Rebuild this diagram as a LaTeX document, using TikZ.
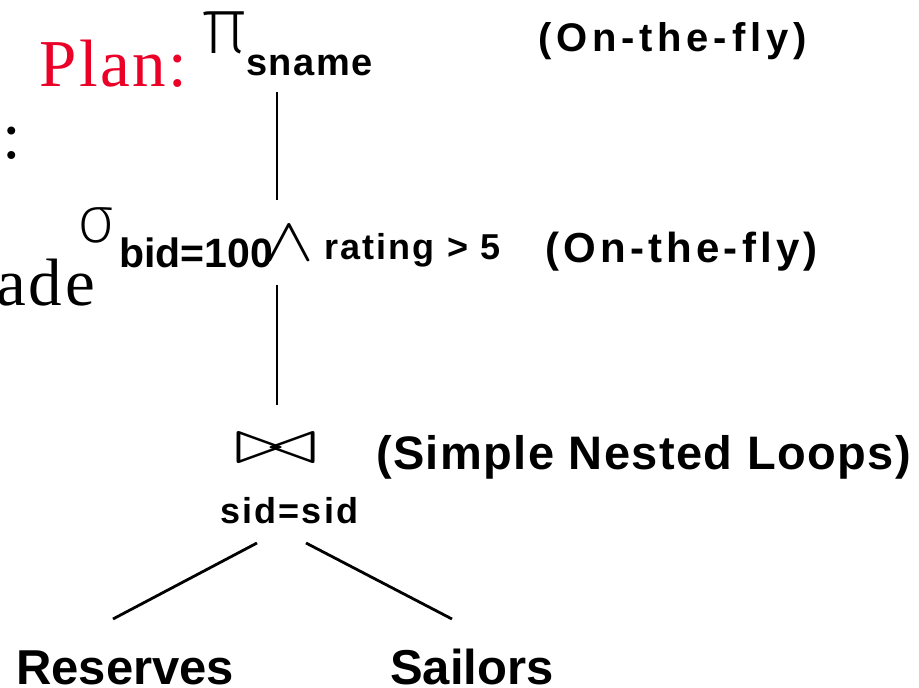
\RequirePackage{fix-cm}
\documentclass[tikz,border=0pt]{standalone}
\usepackage{fontspec}
\usepackage{graphicx}
\usepackage{xcolor}
\usepackage{tikz}

\newfontfamily\helv{Liberation Sans}
\newfontfamily\slidefont{Liberation Serif}
\newfontfamily\thinsym{Fira Sans ExtraLight}
\definecolor{planred}{RGB}{235,0,40}
\newcommand\opfont[2]{\helv\bfseries\fontsize{#1}{#1}\selectfont\addfontfeature{LetterSpace=#2}}
\newcommand\bigfont[1]{\fontsize{#1}{#1}\selectfont}

\tikzset{
	lbl/.style 2 args={inner sep=0pt, anchor=base west, font=\opfont{#1}{#2}},
	sym/.style={inner sep=0pt, anchor=base west, font=\bigfont{#1}},
	slide/.style={inner sep=0pt, anchor=base west, font=\slidefont\bigfont{67}\addfontfeature{LetterSpace=4}},
	edge/.style={line width=2.8pt},
}

\begin{document}
\begin{tikzpicture}[x=1pt, y=-1pt]
				\useasboundingbox (0,0) rectangle (919,688);
				
				%Slide text on the left
				\node[slide, text=planred] (plan) at (39,86) {Plan:};
				\node[slide] (colon) at (2,158) {:};
				\node[slide, anchor=base east] (ade) at (95,305) {ade};
				
				%Projection
				\node[sym=80, font=\thinsym\bigfont{80}] (pi) at (201,53) {π};
				\node[lbl={38}{4}] (sname) at (246,75) {sname};
				\node[lbl={40}{12}] (fly1) at (538,51) {(On-the-fly)};
				
				%Selection
				\node[sym=66, font=\thinsym\bigfont{66}] (sigma) at (77,242) {σ};
				\node[lbl={41}{0}] (bid) at (119,267) {bid=100};
				\node[sym=62] (and) at (264,260) {\scalebox{1.2}[1]{\(\wedge\)}};
				\node[lbl={36}{6}] (rating) at (324,259) {rating > 5};
				\node[lbl={42}{10}] (fly2) at (545,262) {(On-the-fly)};
				
				%Join
				\node[sym=64] (join) at (234,463) {\scalebox{1.6}[1]{\(\bowtie\)}};
				\node[lbl={47}{3}] (snl) at (376,469) {(Simple Nested Loops)};
				\node[lbl={36}{6}] (cond) at (220,523) {sid=sid};
				
				%Leaves
				\node[lbl={49}{0}] (res) at (16,684) {Reserves};
				\node[lbl={49}{0}] (sail) at (390,684) {Sailors};
				
				%Lines
				\coordinate (proj-end) at (277,92);
				\coordinate (sel-top) at (277,200);
				\coordinate (sel-end) at (277,285);
				\coordinate (join-top) at (277,405);
				\coordinate (join-left) at (257,543);
				\coordinate (join-right) at (306,543);
				\coordinate (res-top) at (113,619);
				\coordinate (sail-top) at (452,619);
				\draw[edge] (proj-end) -- (sel-top);
				\draw[edge] (sel-end) -- (join-top);
				\draw[edge] (join-left) -- (res-top);
				\draw[edge] (join-right) -- (sail-top);
			\end{tikzpicture}
\end{document}
